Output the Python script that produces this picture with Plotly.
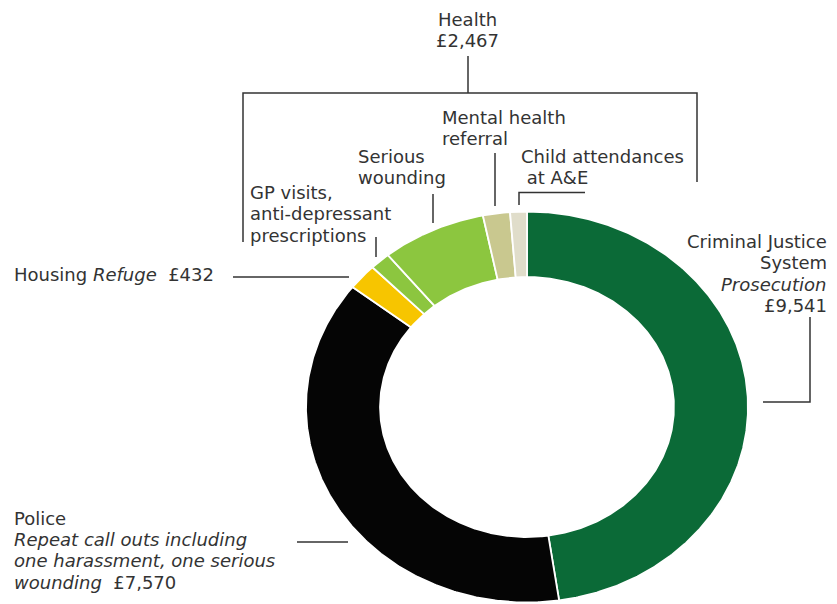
import numpy as np
import plotly.graph_objects as go

# Cost components, clockwise from 12 o'clock
segments = [
    "Criminal Justice System",
    "Police",
    "Housing",
    "GP visits, anti-depressant prescriptions",
    "Serious wounding",
    "Mental health referral",
    "Child attendances at A&E",
]
costs = [9541, 7570, 432, 300, 1527, 395, 245]
colours = ["#0b6a37", "#050505", "#f7c500", "#8cc63f", "#8cc63f", "#c9c88f", "#e0ddca"]

# Label text, one entry per line
NB = "\u00a0"
health_label = ["Health", "£2,467"]
cjs_label = ["Criminal Justice", "System", "<i>Prosecution</i>", "£9,541"]
police_label = ["Police", "<i>Repeat call outs including</i>",
                "<i>one harassment, one serious</i>", f"<i>wounding</i>{NB} £7,570"]
housing_label = [f"Housing <i>Refuge</i>{NB} £432"]
gp_label = ["GP visits,", "anti-depressant", "prescriptions"]
wound_label = ["Serious", "wounding"]
mental_label = ["Mental health", "referral"]
child_label = ["Child attendances", f"{NB}at A&E"]

W, H = 837, 604
CX, CY = 527, 407          # ring centre (pixels)
RX, RY = 221, 195.5        # outer radii
HOLE = 0.665               # inner/outer ratio
FONT = dict(family="DejaVu Sans", size=18, color="#333333")
LINE_GAP = 21.4
INK = "#333333"

fig = go.Figure()

# Ring segments, angle proportional to cost
total = float(sum(costs))
start = 0.0
for name, v, c in zip(segments, costs, colours):
    t0 = start / total * 2 * np.pi
    t1 = (start + v) / total * 2 * np.pi
    n = max(int(v / total * 720), 6)
    t = np.linspace(t0, t1, n)
    xo = CX + RX * np.sin(t)
    yo = CY - RY * np.cos(t)
    tr = t[::-1]
    xi = CX + RX * HOLE * np.sin(tr)
    yi = CY - RY * HOLE * np.cos(tr)
    xs = np.concatenate([xo, xi, xo[:1]])
    ys = np.concatenate([yo, yi, yo[:1]])
    fig.add_trace(go.Scatter(
        x=xs, y=ys, mode="lines", fill="toself", fillcolor=c,
        line=dict(color="white", width=1.8),
        name=name, hoverinfo="text", text=f"{name}: £{v:,}",
    ))
    start += v


def add_block(lines, x, y0, anchor):
    for i, txt in enumerate(lines):
        fig.add_annotation(
            x=x, y=y0 + i * LINE_GAP, xref="x", yref="y", text=txt,
            showarrow=False, xanchor=anchor, yanchor="middle",
            font=FONT, align=anchor,
        )


add_block(health_label, 467, 19, "center")
add_block(mental_label, 440, 117, "left")
add_block(wound_label, 356, 156, "left")
add_block(child_label, 519, 156.5, "left")
add_block(gp_label, 248, 192.5, "left")
add_block(housing_label, 12, 274, "left")
add_block(cjs_label, 829, 241.5, "right")
add_block(police_label, 12, 518, "left")

# Leader lines
leaders = [
    "M 468 56 V 93",
    "M 243 242 V 93 H 697 V 182",
    "M 495 153 V 206",
    "M 519 205 V 192.5 H 585",
    "M 433 194 V 223",
    "M 376 237 V 257",
    "M 233 277 H 349",
    "M 763 402 H 810 V 317",
    "M 297 542 H 348",
]
for p in leaders:
    fig.add_shape(type="path", path=p, xref="x", yref="y",
                  line=dict(color=INK, width=1.5))

fig.update_xaxes(range=[0, W], visible=False, fixedrange=True)
fig.update_yaxes(range=[H, 0], visible=False, fixedrange=True)
fig.update_layout(
    width=W, height=H, margin=dict(l=0, r=0, t=0, b=0),
    paper_bgcolor="white", plot_bgcolor="white",
    showlegend=False,
)

fig.write_html("out.html")
